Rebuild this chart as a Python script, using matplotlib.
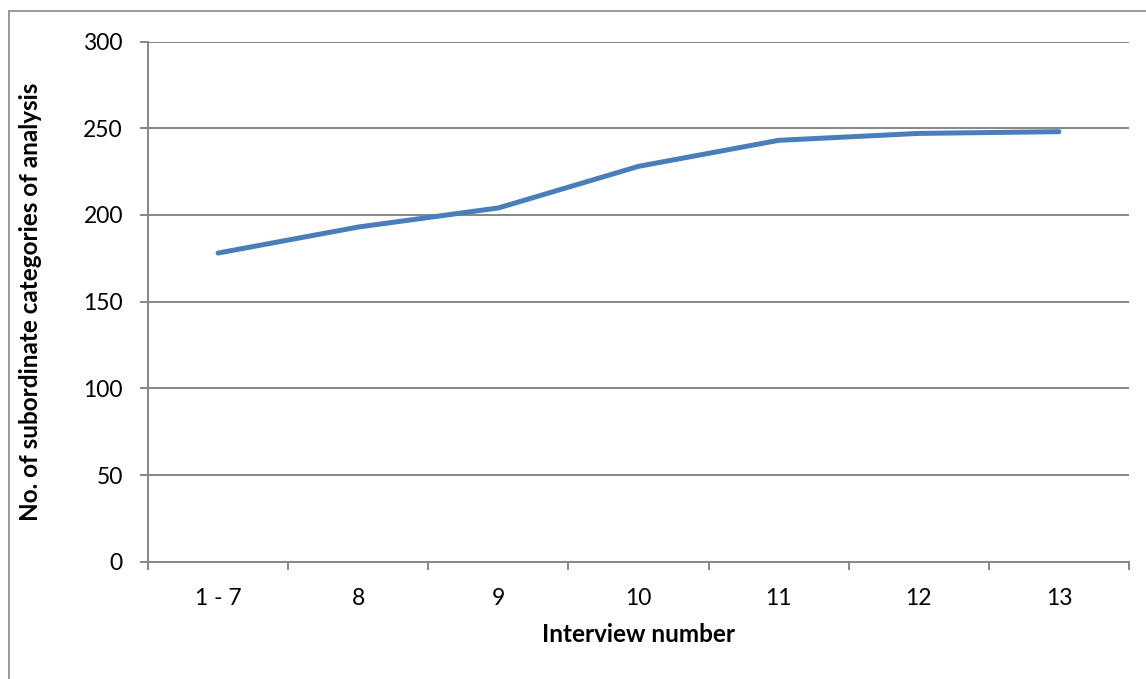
import matplotlib.pyplot as plt
from matplotlib.patches import Rectangle

# interview batches and cumulative subordinate categories
interviews = ["1 - 7", "8", "9", "10", "11", "12", "13"]
categories = [178, 193, 204, 228, 243, 247, 248]

y_ticks = [0, 50, 100, 150, 200, 250, 300]

grid_col = "#868686"
line_col = "#4A7EBB"

plt.rcParams['font.family'] = ['Lato', 'DejaVu Sans']

W, H = 1146, 679
fig = plt.figure(figsize=(W / 100, H / 100), dpi=100)
ax = fig.add_axes([148 / W, 117.3 / H, 981 / W, 520.2 / H])

x = list(range(len(interviews)))
ax.plot(x, categories, color=line_col, linewidth=3.6, solid_capstyle='round',
        solid_joinstyle='round', zorder=3)

ax.set_xlim(-0.5, len(interviews) - 0.5)
ax.set_ylim(0, 300)
ax.set_yticks(y_ticks)
ax.set_yticklabels([str(v) for v in y_ticks])
ax.yaxis.grid(True, color=grid_col, linewidth=1.4)
ax.set_axisbelow(True)

# labels in the middle of each category, tick marks on the boundaries
ax.set_xticks(x)
ax.set_xticklabels(interviews)
ax.set_xticks([i - 0.5 for i in range(len(interviews) + 1)], minor=True)
ax.tick_params(axis='x', which='major', length=0, pad=19, labelsize=16.5)
ax.tick_params(axis='x', which='minor', length=6, width=1.4, color=grid_col)
ax.tick_params(axis='y', length=6, width=1.4, color=grid_col, pad=12, labelsize=16.5)

for side in ['top', 'right']:
    ax.spines[side].set_visible(False)
for side in ['left', 'bottom']:
    ax.spines[side].set_color(grid_col)
    ax.spines[side].set_linewidth(1.4)

ax.set_xlabel("Interview number", fontsize=17.5, fontweight='bold', labelpad=10)
ax.set_ylabel("No. of subordinate categories of analysis", fontsize=17.5,
              fontweight='bold', labelpad=30)

# chart frame
fig.patches.append(Rectangle((9 / W, -0.05), 1.1, 1 - 11 / H + 0.05,
                             transform=fig.transFigure, fill=False,
                             edgecolor=grid_col, linewidth=1.2))

fig.savefig("out.png", dpi=100)
